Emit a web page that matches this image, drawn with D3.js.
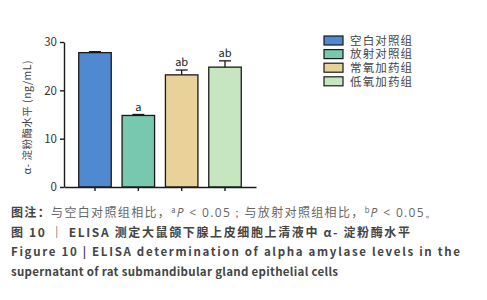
<!DOCTYPE html>
<html>
<head>
<meta charset="utf-8">
<script src="https://cdn.jsdelivr.net/npm/d3@7"></script>
<style>
  html, body { margin: 0; padding: 0; background: #fff; }
  svg { display: block; }
  text { font-family: "Noto Sans CJK SC", "Noto Sans", sans-serif; }
</style>
</head>
<body>
<script>
// Groups, mean α-amylase levels (ng/mL), SD and significance marks
const groups = ["空白对照组", "放射对照组", "常氧加药组", "低氧加药组"];
const means = [27.8, 14.8, 23.2, 24.8];
const errors = [0.2, 0.2, 1.0, 1.3];
const marks = ["", "a", "ab", "ab"];
const colors = ["#4f8ad0", "#78c8b0", "#e9d29a", "#c6e6c0"];
const yTicks = [0, 10, 20, 30];

const W = 487, H = 300;
const svg = d3.select("body").append("svg").attr("width", W).attr("height", H);

const x = d3.scaleBand().domain(groups).range([64, 256]).paddingInner(0.25).paddingOuter(0.34);
const y = d3.scaleLinear().domain([0, 30]).range([187, 42]);

// Bars
svg.append("g").selectAll("rect").data(groups).join("rect")
  .attr("x", d => x(d))
  .attr("y", (d, i) => y(means[i]))
  .attr("width", x.bandwidth())
  .attr("height", (d, i) => y(0) - y(means[i]))
  .attr("fill", (d, i) => colors[i])
  .attr("stroke", "#1a1a1a")
  .attr("stroke-width", 1.3);

// Upper error bars
const eb = svg.append("g").attr("stroke", "#1a1a1a").attr("stroke-width", 1.3);
groups.forEach((g, i) => {
  const cx = x(g) + x.bandwidth() / 2;
  eb.append("line").attr("x1", cx).attr("x2", cx).attr("y1", y(means[i])).attr("y2", y(means[i] + errors[i]));
  eb.append("line").attr("x1", cx - 6).attr("x2", cx + 6).attr("y1", y(means[i] + errors[i])).attr("y2", y(means[i] + errors[i]));
});

// Significance letters
svg.append("g").selectAll("text").data(groups).join("text")
  .attr("x", d => x(d) + x.bandwidth() / 2)
  .attr("y", (d, i) => y(means[i] + errors[i]) - 4)
  .attr("text-anchor", "middle")
  .attr("font-family", "Open Sans, sans-serif")
  .attr("font-size", 11)
  .attr("fill", "#222")
  .text((d, i) => marks[i]);

// Axes
const yAxis = svg.append("g").attr("transform", "translate(64,0)")
  .call(d3.axisLeft(y).tickValues(yTicks).tickSize(4).tickSizeOuter(0).tickPadding(3));
const xAxis = svg.append("g").attr("transform", `translate(0,${y(0)})`)
  .call(d3.axisBottom(x).tickSize(4).tickSizeOuter(0).tickFormat(""));
[yAxis, xAxis].forEach(a => {
  a.selectAll("path, line").attr("stroke", "#1a1a1a").attr("stroke-width", 1.4);
});
yAxis.selectAll("text").attr("font-family", "Open Sans, sans-serif").attr("font-size", 11.5).attr("fill", "#333");

// Y axis title
svg.append("text")
  .attr("transform", `translate(31,${(y(0) + y(30)) / 2 + 3}) rotate(-90)`)
  .attr("text-anchor", "middle")
  .attr("font-size", 10.5)
  .attr("fill", "#444")
  .attr("textLength", 114).attr("lengthAdjust", "spacing")
  .text("α- 淀粉酶水平 (ng/mL)");

// Legend
const lg = svg.append("g");
groups.forEach((g, i) => {
  const ly = 40.5 + i * 13.6;
  lg.append("rect").attr("x", 324).attr("y", ly - 4.5).attr("width", 19).attr("height", 9)
    .attr("fill", colors[i]).attr("stroke", "#1a1a1a").attr("stroke-width", 1.2);
  lg.append("text").attr("x", 350).attr("y", ly + 4.2).attr("font-size", 11.5).attr("fill", "#444")
    .attr("textLength", 62).attr("lengthAdjust", "spacing").text(g);
});

// Caption
const cap = svg.append("g").attr("fill", "#444");
const l1 = cap.append("text").attr("x", 11).attr("y", 217).attr("font-size", 12).attr("fill", "#666")
  .attr("textLength", 426).attr("lengthAdjust", "spacing");
l1.append("tspan").attr("font-weight", "bold").attr("fill", "#444").text("图注：");
l1.append("tspan").text("与空白对照组相比，");
l1.append("tspan").attr("font-size", 7.5).attr("dy", -4.5).text("a");
l1.append("tspan").attr("dy", 4.5).attr("font-style", "italic").attr("font-family", "Open Sans, sans-serif").text("P");
l1.append("tspan").attr("font-family", "Open Sans, sans-serif").text(" < 0.05；");
l1.append("tspan").text("与放射对照组相比，");
l1.append("tspan").attr("font-size", 7.5).attr("dy", -4.5).text("b");
l1.append("tspan").attr("dy", 4.5).attr("font-style", "italic").attr("font-family", "Open Sans, sans-serif").text("P");
l1.append("tspan").attr("font-family", "Open Sans, sans-serif").text(" < 0.05。");

cap.append("text").attr("x", 11).attr("y", 237).attr("font-size", 12).attr("font-weight", "bold")
  .attr("fill", "#444")
  .attr("textLength", 399).attr("lengthAdjust", "spacing")
  .text("图 10 ｜ ELISA 测定大鼠颌下腺上皮细胞上清液中 α- 淀粉酶水平");

cap.append("text").attr("x", 11).attr("y", 256).attr("font-size", 11.5).attr("font-weight", "bold")
  .attr("font-family", "Open Sans, sans-serif").attr("fill", "#444")
  .attr("textLength", 449).attr("lengthAdjust", "spacing")
  .text("Figure 10  |  ELISA determination of alpha amylase levels in the");

cap.append("text").attr("x", 11).attr("y", 276).attr("font-size", 11.5).attr("font-weight", "bold")
  .attr("font-family", "Open Sans, sans-serif").attr("fill", "#444")
  .attr("textLength", 327).attr("lengthAdjust", "spacing")
  .text("supernatant of rat submandibular gland epithelial cells");
</script>
</body>
</html>
